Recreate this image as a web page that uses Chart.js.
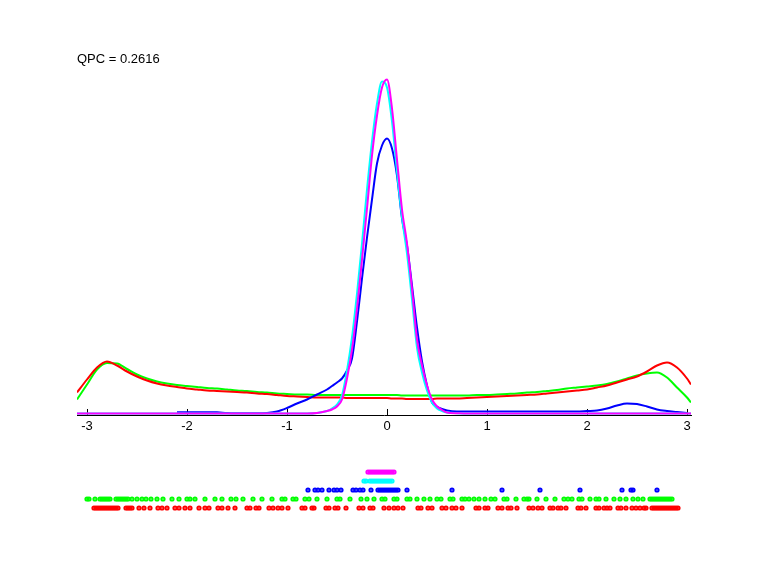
<!DOCTYPE html>
<html>
<head>
<meta charset="utf-8">
<script src="https://cdn.jsdelivr.net/npm/chart.js@4.4.1/dist/chart.umd.min.js"></script>
<style>
  html, body { margin: 0; padding: 0; background: #fff; }
  #wrap { position: relative; width: 768px; height: 576px; }
  #wrap canvas { position: absolute; left: 0; top: 0; }
</style>
</head>
<body>
<div id="wrap">
  <canvas id="dens" width="768" height="576"></canvas>
  <canvas id="rug" width="768" height="576"></canvas>
</div>
<script>
// ---------------- data ----------------
const TITLE = 'QPC = 0.2616';
const X_MIN = -3.1;
const X_MAX = 3.04;
const X_TICKS = [-3, -2, -1, 0, 1, 2, 3];

// evaluation grid of the density curves
const XS = [-3.1,-3.0,-2.9,-2.8,-2.7,-2.6,-2.5,-2.4,-2.3,-2.2,-2.1,-2.0,-1.9,-1.8,-1.7,-1.6,-1.5,-1.4,-1.3,-1.2,-1.1,-1.0,-0.9,-0.8,-0.7,-0.6,
  -0.55,-0.5,-0.45,-0.4,-0.35,-0.3,-0.25,-0.2,-0.15,-0.1,-0.05,0,0.05,0.1,0.15,0.2,0.25,0.3,0.35,0.4,0.45,0.5,0.55,
  0.6,0.7,0.8,0.9,1.0,1.1,1.2,1.3,1.4,1.5,1.6,1.7,1.8,1.9,2.0,2.1,2.2,2.3,2.4,2.5,2.6,2.7,2.8,2.9,3.0,3.04];

// density values (x100)
const RED_DENS = [21,34,46,52,48,42,37,33,30,28,26.5,25,24,23,22.5,22,21.5,21,20,19.5,18.5,17.5,17,16.5,16,16,
  16,16,16,15.5,15.5,15.5,15.5,15.5,15.5,15.5,15.5,15.5,15,15,15,14.5,14.5,14.5,14.5,14.5,14.5,15,15,
  15,15,15.5,16,16.5,17,17.5,18,18.5,19,20,21,22,23,24,26,28,31,34,37,42,48,51,46,35,29];
const GREEN_DENS = [14,29,44,50.5,50,44.5,39,35,32,30,28.5,27.5,26.5,25.5,25,24,23,22.5,21.5,21,20,19.5,19,19,18.5,18.5,
  18.5,18.5,18.5,18.5,18.5,18.5,18.5,18.5,18.5,18.5,18.5,18.5,18.5,18.5,18,18,18,18,18,18,18,18,18,
  18,18,18,18.5,18.5,19,19.5,20,21,21.5,22.5,23.5,25,26,27,28,29.5,32,35,38,40,41,36,26,16,11];
const BLUE_DENS = [null,null,null,null,null,null,null,null,null,null,1.3,1.3,1.3,1.3,1.2,0.5,0.3,0.3,0.3,0.6,2,5.5,10,14,19,24,
  27.5,31,35,43,55,92,135,176,214,250,268,275,265,238,195,168,128,86,52,28,11,7,4.5,
  3,2,2,2,2,2,2,2,2,2,2,2,2,2,2.5,3,5,8,10,9.5,7,4,2.5,1.5,0.5];
const CYAN_DENS = [0,0,0,0,0,0,0,0,0,0,0,0,0,0,0,0,0,0,0,0,0,0,0,0,0.5,2.5,
  5,9,18,43,76,120,170,224,272,310,332,326,292,242,196,160,114,66,41,23,11,5,2.5,
  1,0.3,0,0,0,0,0,0,0,0,0,0,0,0,0,0,0,0,0,0,0,0,0,0,0,0];
const MAGENTA_DENS = [0,0,0,0,0,0,0,0,0,0,0,0,0,0,0,0,0,0,0,0,0,0,0,0,0.5,2.5,
  4,7,14,35,64,105,154,205,258,298,326,334,305,254,204,170,124,74,48,28,14,7,3.5,
  1,0.3,0,0,0,0,0,0,0,0,0,0,0,0,0,0,0,0,0,0,0,0,0,0,0,0];

// rug (raw observations) per group
const MAGENTA_RUG = [-0.19,-0.17,-0.15,-0.13,-0.11,-0.09,-0.07,-0.05,-0.03,-0.01,0.01,0.03,0.05,0.07];
const CYAN_RUG = [-0.23,-0.21,-0.17,-0.15,-0.13,-0.11,-0.09,-0.07,-0.05,-0.03,-0.01,0.01,0.03,0.05];
const BLUE_RUG = [-0.79,-0.72,-0.69,-0.65,-0.58,-0.53,-0.50,-0.46,-0.34,-0.31,-0.27,-0.24,-0.16,-0.09,-0.07,-0.05,-0.03,-0.01,0.01,0.03,0.05,0.07,0.09,0.11,0.20,0.65,1.15,1.53,1.93,2.35,2.44,2.46,2.70];
const GREEN_RUG = [-3.00,-2.98,-2.92,-2.87,-2.85,-2.83,-2.81,-2.79,-2.77,-2.71,-2.69,-2.67,-2.65,-2.63,-2.61,-2.59,-2.55,-2.50,-2.45,-2.41,-2.36,-2.30,-2.24,-2.15,-2.08,-2.00,-1.97,-1.92,-1.82,-1.72,-1.65,-1.56,-1.51,-1.44,-1.34,-1.25,-1.15,-1.05,-1.02,-0.94,-0.91,-0.82,-0.78,-0.70,-0.60,-0.50,-0.47,-0.37,-0.26,-0.20,-0.13,-0.05,-0.02,0.07,0.10,0.20,0.23,0.30,0.37,0.43,0.50,0.54,0.63,0.66,0.75,0.78,0.82,0.87,0.92,0.98,1.04,1.08,1.17,1.20,1.29,1.37,1.40,1.42,1.50,1.59,1.68,1.77,1.81,1.85,1.92,1.95,2.03,2.09,2.12,2.19,2.27,2.33,2.39,2.46,2.51,2.56,2.63,2.65,2.67,2.69,2.71,2.73,2.75,2.77,2.79,2.81,2.83,2.85];
const RED_RUG = [-2.93,-2.91,-2.89,-2.87,-2.85,-2.83,-2.81,-2.79,-2.77,-2.75,-2.73,-2.71,-2.69,-2.61,-2.59,-2.57,-2.55,-2.48,-2.43,-2.37,-2.29,-2.25,-2.20,-2.12,-2.08,-2.02,-1.97,-1.88,-1.82,-1.78,-1.69,-1.65,-1.59,-1.52,-1.40,-1.37,-1.31,-1.28,-1.18,-1.14,-1.09,-1.05,-0.99,-0.85,-0.82,-0.75,-0.73,-0.61,-0.58,-0.52,-0.49,-0.41,-0.28,-0.24,-0.17,-0.14,-0.03,0.02,0.07,0.11,0.16,0.31,0.34,0.41,0.45,0.55,0.59,0.65,0.69,0.75,0.89,0.92,0.98,1.01,1.11,1.15,1.21,1.24,1.30,1.42,1.46,1.51,1.55,1.63,1.66,1.71,1.74,1.79,1.91,1.94,1.99,2.09,2.12,2.17,2.20,2.23,2.31,2.34,2.39,2.45,2.49,2.53,2.57,2.59,2.65,2.67,2.69,2.71,2.73,2.75,2.77,2.79,2.81,2.83,2.85,2.87,2.89,2.91];

// ---------------- drawing ----------------
const FONT = { family: '"Liberation Sans", Arial, Helvetica, sans-serif', size: 13 };

function pts(arr) { return XS.map((x, i) => ({ x: x, y: arr[i] })); }
function lineDs(arr, color) {
  return { type: 'line', data: pts(arr), borderColor: color, borderWidth: 2, pointRadius: 0,
           fill: false, cubicInterpolationMode: 'monotone', spanGaps: false };
}

const decor = {
  id: 'decor',
  beforeDatasetsDraw(chart) {
    const ctx = chart.ctx, xs = chart.scales.x, b = chart.chartArea.bottom;
    ctx.save();
    ctx.strokeStyle = '#000'; ctx.lineWidth = 1;
    xs.ticks.forEach(t => {
      const px = Math.round(xs.getPixelForValue(t.value)) + 0.5;
      ctx.beginPath(); ctx.moveTo(px, b); ctx.lineTo(px, b - 6); ctx.stroke();
    });
    ctx.restore();
  },
  afterDraw(chart) {
    const ctx = chart.ctx;
    ctx.save();
    ctx.font = FONT.size + 'px ' + FONT.family;
    ctx.fillStyle = '#000';
    ctx.textBaseline = 'alphabetic';
    ctx.fillText(TITLE, chart.chartArea.left, 63);
    ctx.restore();
  }
};

new Chart(document.getElementById('dens'), {
  type: 'line',
  data: {
    datasets: [
      lineDs(MAGENTA_DENS, '#ff00ff'),
      lineDs(CYAN_DENS, '#00ffff'),
      lineDs(BLUE_DENS, '#0000ff'),
      lineDs(RED_DENS, '#ff0000'),
      lineDs(GREEN_DENS, '#00ff00')
    ]
  },
  options: {
    responsive: false, animation: false, devicePixelRatio: 1,
    layout: { padding: { top: 78, left: 77, right: 77, bottom: 0 } },
    plugins: { legend: { display: false }, tooltip: { enabled: false }, title: { display: false } },
    scales: {
      x: {
        type: 'linear', min: X_MIN, max: X_MAX,
        afterBuildTicks: s => { s.ticks = X_TICKS.map(v => ({ value: v })); },
        afterFit: s => { s.height = 161; },
        grid: { display: true, drawOnChartArea: false, drawTicks: false },
        border: { display: true, color: '#000', width: 1 },
        ticks: { color: '#000', font: FONT, padding: 4, maxRotation: 0, autoSkip: false }
      },
      y: { type: 'linear', min: -1.5, max: 335.5, display: false }
    }
  },
  plugins: [decor]
});

function rugDs(arr, row, color) {
  return { type: 'scatter', data: arr.map(v => ({ x: v, y: row })), showLine: false,
           pointStyle: 'circle', pointRadius: 1.6, borderWidth: 2,
           borderColor: color, backgroundColor: 'rgba(0,0,0,0)' };
}

new Chart(document.getElementById('rug'), {
  type: 'scatter',
  data: {
    datasets: [
      rugDs(RED_RUG, 1, '#ff0000'),
      rugDs(GREEN_RUG, 2, '#00ff00'),
      rugDs(BLUE_RUG, 3, '#0000ff'),
      rugDs(CYAN_RUG, 4, '#00ffff'),
      rugDs(MAGENTA_RUG, 5, '#ff00ff')
    ]
  },
  options: {
    responsive: false, animation: false, devicePixelRatio: 1,
    layout: { padding: { top: 463, left: 77, right: 77, bottom: 59 } },
    plugins: { legend: { display: false }, tooltip: { enabled: false } },
    scales: {
      x: { type: 'linear', min: X_MIN, max: X_MAX, display: false },
      y: { type: 'linear', min: 0, max: 6, display: false }
    }
  }
});
</script>
</body>
</html>
